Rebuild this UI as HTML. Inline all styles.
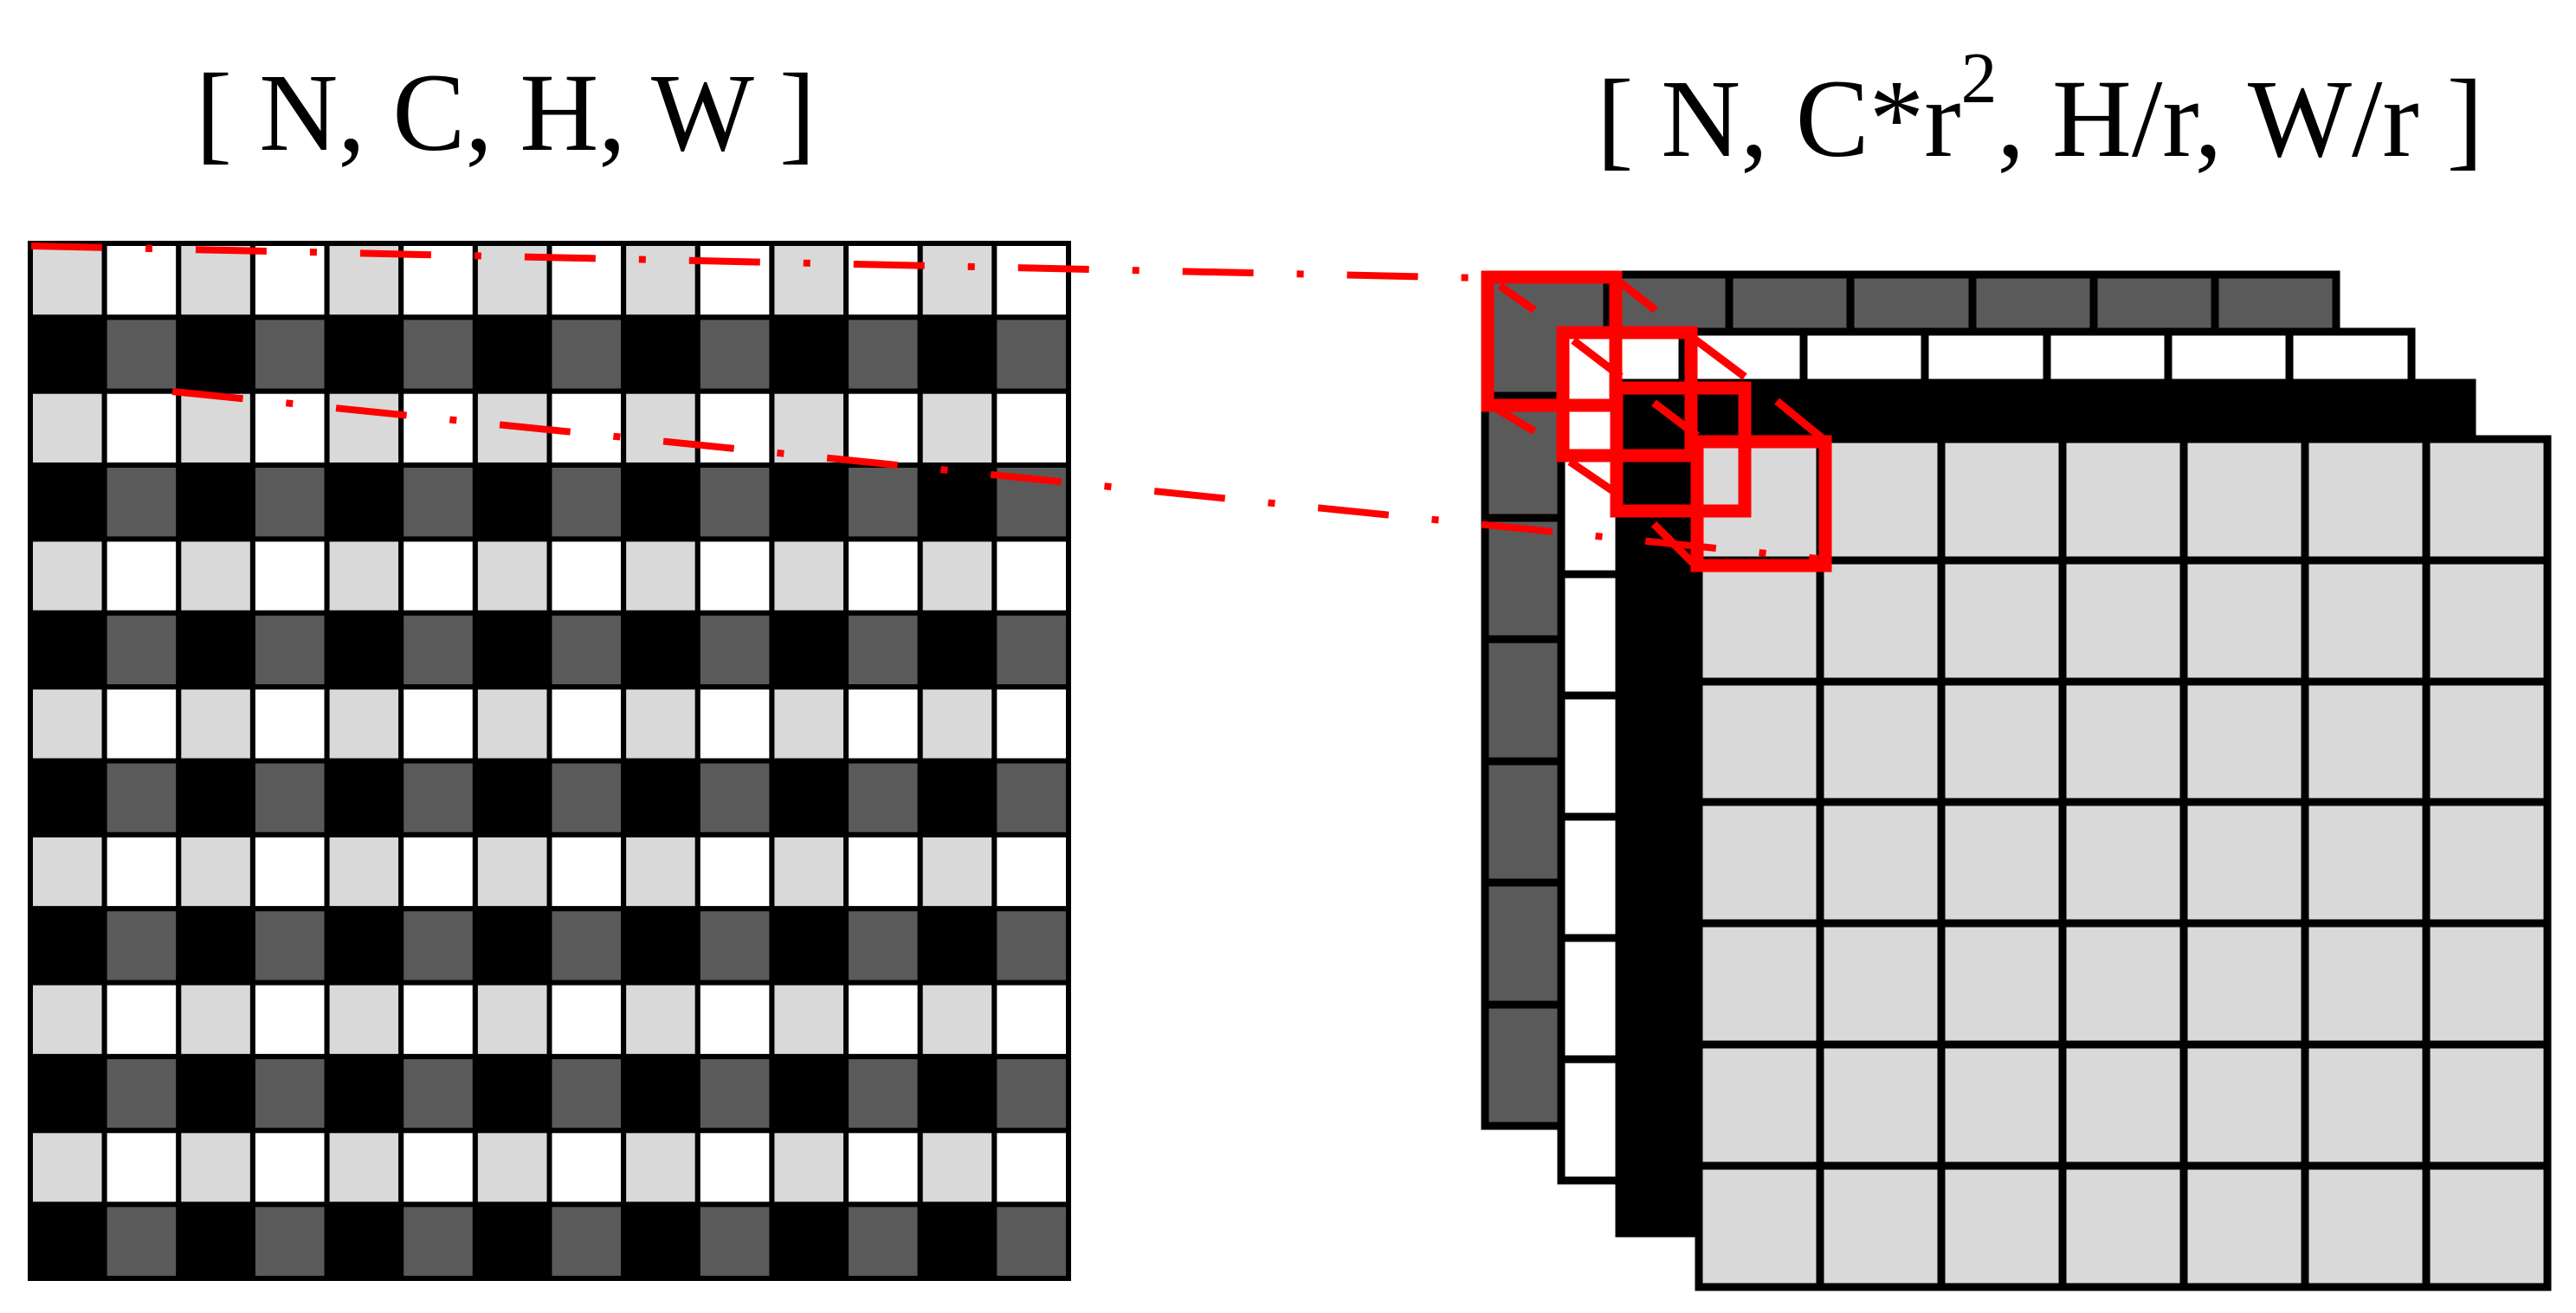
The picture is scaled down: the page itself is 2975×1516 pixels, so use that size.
<!DOCTYPE html>
<html><head><meta charset="utf-8"><style>html,body{margin:0;padding:0;background:#fff}svg{display:block}</style></head>
<body>
<svg width="2975" height="1516" viewBox="0 0 2975 1516" xmlns="http://www.w3.org/2000/svg">
<rect width="2975" height="1516" fill="#fff"/>
<g font-family="'Liberation Serif', serif" fill="#000">
<text x="226" y="173" font-size="128" textLength="716" lengthAdjust="spacingAndGlyphs">[ N, C, H, W ]</text>
<text x="1844" y="180" font-size="128" textLength="1024" lengthAdjust="spacingAndGlyphs">[ N, C*r<tspan font-size="84" dy="-62">2</tspan><tspan dy="62">, H/r, W/r ]</tspan></text>
</g>
<g id="left" stroke="#000" stroke-width="6">
</g>
<script>
(function(){
 var ns="http://www.w3.org/2000/svg";
 var g=document.getElementById('left');
 var x0=35,y0=281,cw=(1234-35)/14,ch=(1476-281)/14;
 for(var r=0;r<14;r++)for(var c=0;c<14;c++){
  var f;
  if(r%2==0) f=(c%2==0)?'#d9d9d9':'#ffffff'; else f=(c%2==0)?'#000000':'#5a5a5a';
  var e=document.createElementNS(ns,'rect');
  e.setAttribute('x',x0+c*cw);e.setAttribute('y',y0+r*ch);
  e.setAttribute('width',cw);e.setAttribute('height',ch);e.setAttribute('fill',f);
  g.appendChild(e);
 }
})();
</script>
<!-- layer 1 dark -->
<g stroke="#000" stroke-width="9">
<rect x="1715" y="317" width="983" height="983" fill="#5a5a5a"/>
<path d="M1856 317V1300M1997 317V1300M2137 317V1300M2278 317V1300M2418 317V1300M2558 317V1300M1715 457H2698M1715 598H2698M1715 738H2698M1715 879H2698M1715 1019H2698M1715 1160H2698" fill="none"/>
<!-- layer 2 white -->
<rect x="1803" y="383" width="982" height="980" fill="#fff"/>
<path d="M1943 383V1363M2083 383V1363M2223 383V1363M2364 383V1363M2504 383V1363M2644 383V1363M1803 523H2785M1803 663H2785M1803 803H2785M1803 943H2785M1803 1083H2785M1803 1223H2785" fill="none"/>
<!-- layer 3 black -->
<rect x="1870" y="442" width="985" height="982" fill="#000"/>
<!-- layer 4 gray -->
<rect x="1962" y="507" width="980" height="979" fill="#d9d9d9"/>
<path d="M2102 507V1486M2242 507V1486M2382 507V1486M2522 507V1486M2662 507V1486M2802 507V1486M1962 647H2942M1962 787H2942M1962 926H2942M1962 1066H2942M1962 1206H2942M1962 1346H2942" fill="none"/>
</g>
<!-- red cubes -->
<g stroke="#ff0000" fill="none">
<g stroke-width="15">
<rect x="1718" y="320" width="148" height="148"/>
<rect x="1805" y="384" width="148" height="142"/>
<rect x="1867" y="448" width="148" height="142"/>
<rect x="1960" y="510" width="148" height="143"/>
</g>
<g stroke-width="9">
<path d="M1732 330L1772 358M1870 325L1912 358M1725 470L1772 498"/>
<path d="M1817 393L1872 435M1955 390L2015 435M1813 533L1863 567"/>
<path d="M1910 465L1960 503M2052 463L2113 513M1910 605L1955 650"/>
</g>
<g stroke-width="8">
<path d="M36 284L1712 321" stroke-dasharray="82 50 8 50"/>
<path d="M199 452L2100 645" stroke-dasharray="82 50 8 50"/>
</g>
</g>
</svg>
</body></html>
